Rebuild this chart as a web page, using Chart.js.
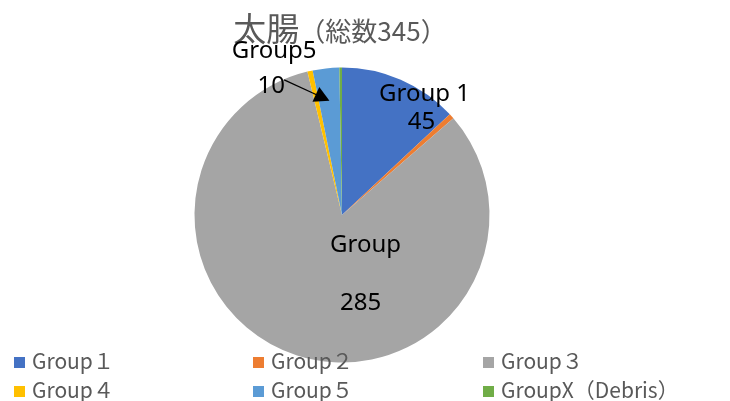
<!DOCTYPE html>
<html>
<head>
<meta charset="utf-8">
<script src="https://cdn.jsdelivr.net/npm/chart.js@4/dist/chart.umd.min.js"></script>
<style>
	html, body { margin: 0; padding: 0; background: #fff; }
	#wrapper-pie { width: 730px; height: 401px; position: relative; }
</style>
</head>
<body>
<div id="wrapper-pie"><canvas id="pie-colon"></canvas></div>
<script>
const lsGroup = ["Group１", "Group２", "Group３", "Group４", "Group５", "GroupX（Debris）"];
const lsCount = [45, 2, 285, 2, 10, 1];
const lsColor = ["#4472C4", "#ED7D31", "#A5A5A5", "#FFC000", "#5B9BD5", "#70AD47"];

const titleMain = "太腸";
const titleSub = "（総数345）";

// data labels shown on the pie: [slice index, first line, second line]
const lsDataLabel = [
	[0, "Group 1", "45"],
	[2, "Group", "285"],
	[4, "Group5", "10"],
];

const GRAY_TEXT = "#595959";
const CJK_FONT = "'Noto Sans CJK JP', 'Noto Sans', sans-serif";
const LABEL_FONT = "24px 'Noto Sans', 'Open Sans', sans-serif";

// label placement in units of the pie radius, relative to the centre
const labelPlace = {
	0: { dx: 0.56, dy: -0.77, gap: 28, arrow: false },
	2: { dx: 0.16, dy: 0.25, gap: 58, arrow: false },
	4: { dx: -0.46, dy: -1.065, gap: 35, arrow: true },
};

const chartDecor = {
	id: "chartDecor",
	afterDraw(chart) {
		const ctx = chart.ctx;
		const meta = chart.getDatasetMeta(0);
		const arc0 = meta.data[0];
		const cx = arc0.x;
		const cy = arc0.y;
		const r = arc0.outerRadius;

		ctx.save();

		// title, two sizes
		ctx.fillStyle = GRAY_TEXT;
		ctx.textBaseline = "alphabetic";
		ctx.textAlign = "left";
		ctx.font = "33px " + CJK_FONT;
		let wMain = ctx.measureText(titleMain).width;
		ctx.font = "26px " + CJK_FONT;
		let wSub = ctx.measureText(titleSub).width;
		let tx = cx - 2 - (wMain + wSub) / 2;
		ctx.font = "33px " + CJK_FONT;
		ctx.fillText(titleMain, tx, 41);
		ctx.font = "26px " + CJK_FONT;
		ctx.fillText(titleSub, tx + wMain, 41);

		// legend, 3 columns x 2 rows
		const colX = [14, 253, 483];
		const rowY = [357, 386];
		ctx.font = "21px " + CJK_FONT;
		lsGroup.forEach((g, idx) => {
			let x = colX[idx % 3];
			let y = rowY[Math.floor(idx / 3)];
			ctx.fillStyle = lsColor[idx];
			ctx.fillRect(x, y, 11, 11);
			ctx.fillStyle = GRAY_TEXT;
			ctx.fillText(g, x + 18, y + 12);
		});

		// data labels
		ctx.font = LABEL_FONT;
		ctx.fillStyle = "#000";
		ctx.textAlign = "center";
		lsDataLabel.forEach(([idx, line1, line2]) => {
			let p = labelPlace[idx];
			let lx = cx + p.dx * r;
			let ly = cy + p.dy * r;
			ctx.fillText(line1, lx, ly);
			let w2 = idx === 2 ? -5 : -3;
			ctx.fillText(line2, lx + w2, ly + p.gap);

			if (p.arrow) {
				let arc = meta.data[idx];
				let mid = (arc.startAngle + arc.endAngle) / 2;
				let tipX = cx + Math.cos(mid) * r * 0.78;
				let tipY = cy + Math.sin(mid) * r * 0.78;
				let sx = lx + 10;
				let sy = ly + p.gap - 13;
				let ang = Math.atan2(tipY - sy, tipX - sx);
				ctx.strokeStyle = "#000";
				ctx.lineWidth = 1.2;
				ctx.beginPath();
				ctx.moveTo(sx, sy);
				ctx.lineTo(tipX - Math.cos(ang) * 10, tipY - Math.sin(ang) * 10);
				ctx.stroke();
				ctx.beginPath();
				ctx.moveTo(tipX, tipY);
				ctx.lineTo(tipX - Math.cos(ang - 0.5) * 17, tipY - Math.sin(ang - 0.5) * 17);
				ctx.lineTo(tipX - Math.cos(ang + 0.5) * 17, tipY - Math.sin(ang + 0.5) * 17);
				ctx.closePath();
				ctx.fill();
			}
		});

		ctx.restore();
	},
};

const ctx = document.getElementById("pie-colon").getContext("2d");
const pieChart = new Chart(ctx, {
	type: "pie",
	data: {
		labels: lsGroup,
		datasets: [
			{
				data: lsCount,
				backgroundColor: lsColor,
				borderWidth: 0,
			},
		],
	},
	options: {
		responsive: true,
		maintainAspectRatio: false,
		animation: false,
		layout: {
			padding: { top: 67.5, bottom: 38.5, left: 0, right: 46 },
		},
		plugins: {
			legend: { display: false },
			title: { display: false },
			tooltip: { enabled: false },
		},
	},
	plugins: [chartDecor],
});
</script>
</body>
</html>
